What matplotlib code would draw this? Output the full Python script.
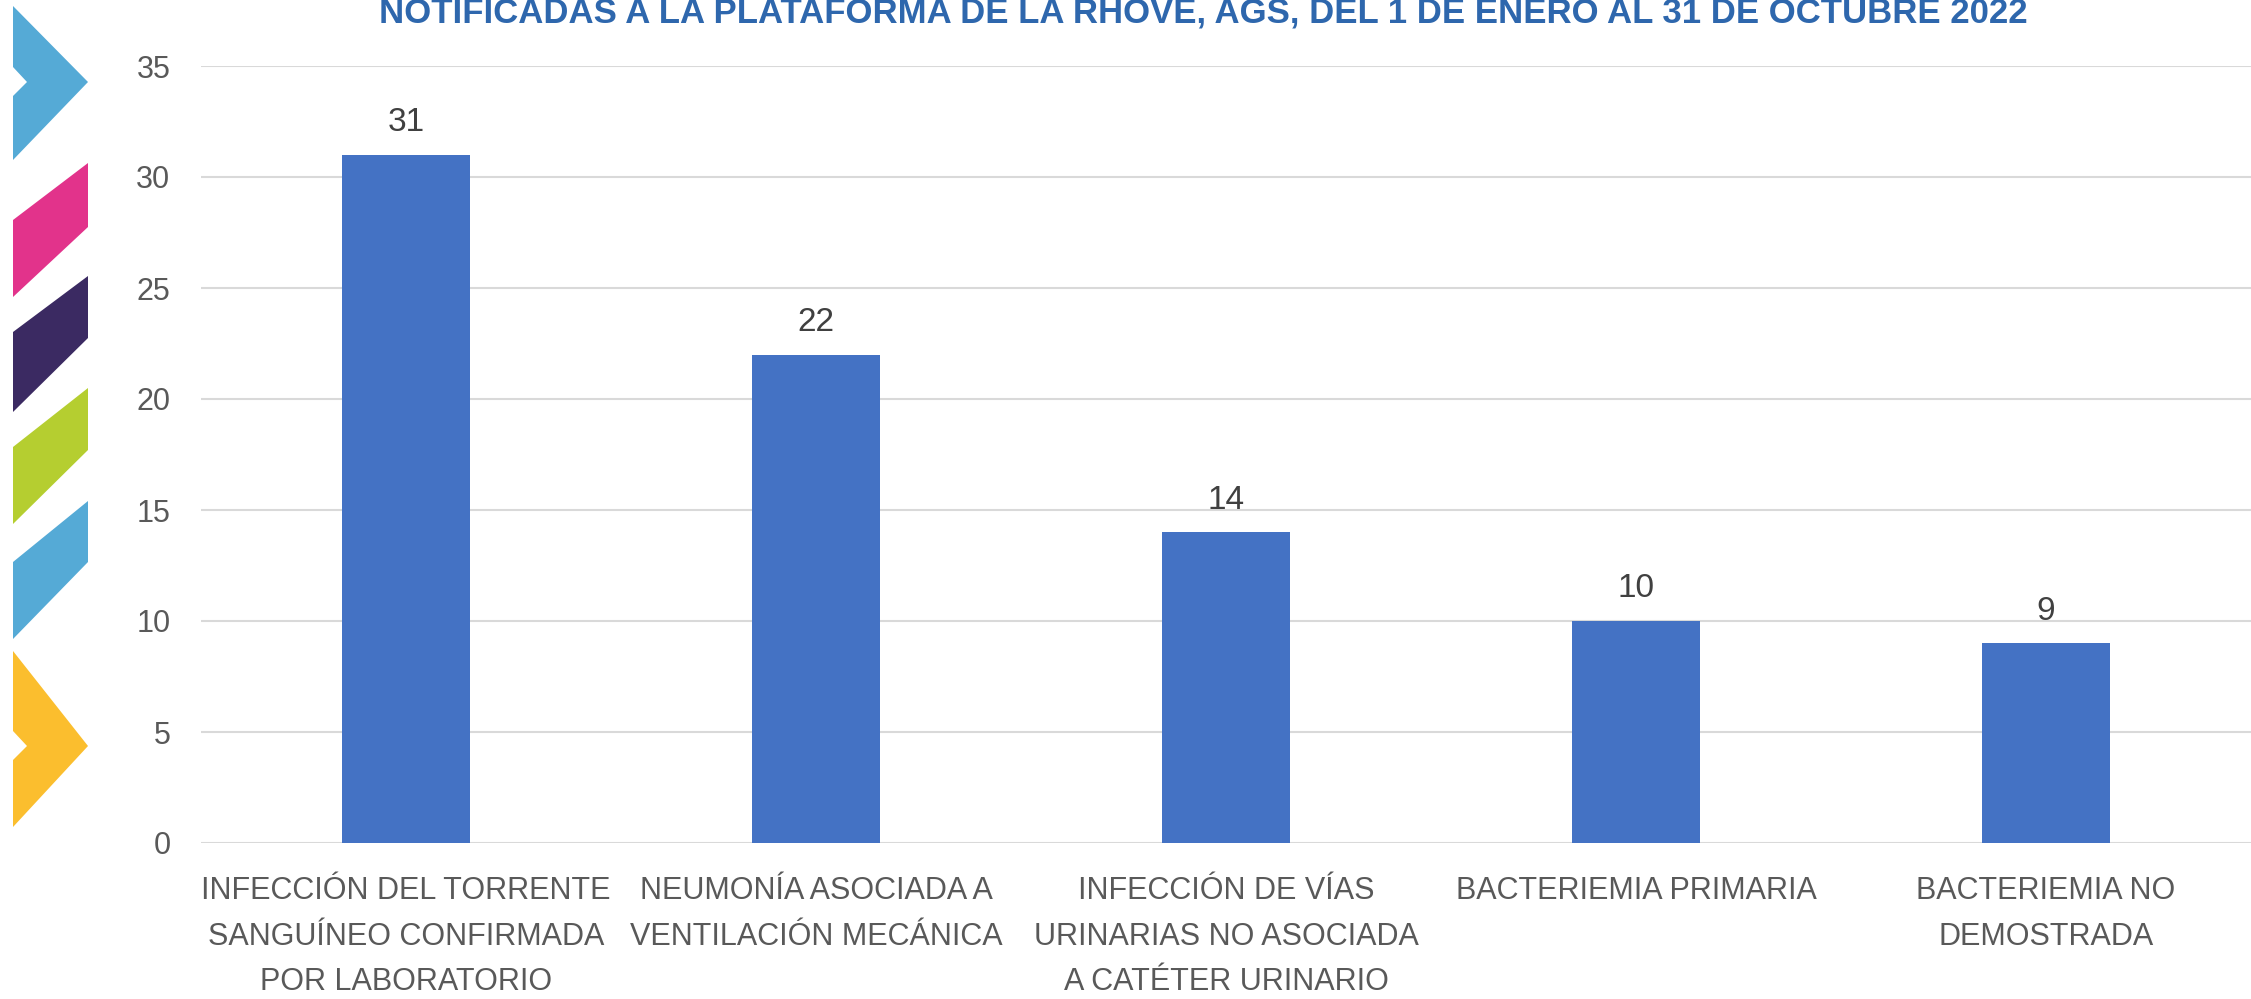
import numpy as np
import matplotlib.pyplot as plt
from matplotlib.patches import Polygon

categorias = [
    "INFECCIÓN DEL TORRENTE\nSANGUÍNEO CONFIRMADA\nPOR LABORATORIO",
    "NEUMONÍA ASOCIADA A\nVENTILACIÓN MECÁNICA",
    "INFECCIÓN DE VÍAS\nURINARIAS NO ASOCIADA\nA CATÉTER URINARIO",
    "BACTERIEMIA PRIMARIA",
    "BACTERIEMIA NO\nDEMOSTRADA",
]
casos = [31, 22, 14, 10, 9]
titulo = "NOTIFICADAS A LA PLATAFORMA DE LA RHOVE, AGS, DEL 1 DE ENERO AL 31 DE OCTUBRE 2022"

W, H = 2251, 999
plt.rcParams['font.family'] = ['Liberation Sans', 'DejaVu Sans']

fig = plt.figure(figsize=(W / 100, H / 100), dpi=100)
ax = fig.add_axes([201 / W, 1 - 843 / H, 1 - 201 / W, (843 - 66) / H])

x = np.arange(len(casos))
barras = ax.bar(x, casos, width=0.314, color='#4472C4', zorder=3)
for b, v in zip(barras, casos):
    ax.annotate(str(v), (b.get_x() + b.get_width() / 2, v), xytext=(0, 12),
                textcoords='offset points', ha='center', va='bottom',
                fontsize=24, color='#404040')

ax.set_xlim(-0.5, len(casos) - 0.5)
ax.set_ylim(0, 35)
ax.set_yticks(np.arange(0, 36, 5))
ax.yaxis.grid(True, color='#D9D9D9', linewidth=1.5, zorder=0)
for s in ax.spines.values():
    s.set_visible(False)
ax.set_xticks(x)
ax.set_xticklabels(categorias, fontsize=22, color='#595959', linespacing=1.66)
ax.tick_params(axis='x', length=0, pad=24)
ax.tick_params(axis='y', length=0, pad=22, labelsize=22, labelcolor='#595959')

# titulo (recortado en la parte superior)
fig.text(1203 / W, 1 - 22 / H, titulo, ha='center', va='baseline',
         fontsize=25, fontweight='bold', color='#2E67AD')

# figuras decorativas a la izquierda (pixeles de la figura)
formas = [
    ([(13, 6), (88, 82), (13, 160), (13, 96), (27, 82), (13, 67)], '#55AAD6'),
    ([(13, 220), (88, 163), (88, 227), (13, 297)], '#E2338B'),
    ([(13, 332), (88, 276), (88, 338), (13, 412)], '#3B2A62'),
    ([(13, 447), (88, 388), (88, 450), (13, 524)], '#B5CE30'),
    ([(13, 562), (88, 501), (88, 562), (13, 639)], '#55AAD6'),
    ([(13, 651), (88, 746), (13, 827), (13, 760), (27, 746), (13, 731)], '#FBBE2E'),
]
for pts, c in formas:
    fig.add_artist(Polygon([(px / W, 1 - py / H) for px, py in pts],
                           closed=True, facecolor=c, edgecolor='none',
                           transform=fig.transFigure))

fig.savefig('out.png', dpi=100)
